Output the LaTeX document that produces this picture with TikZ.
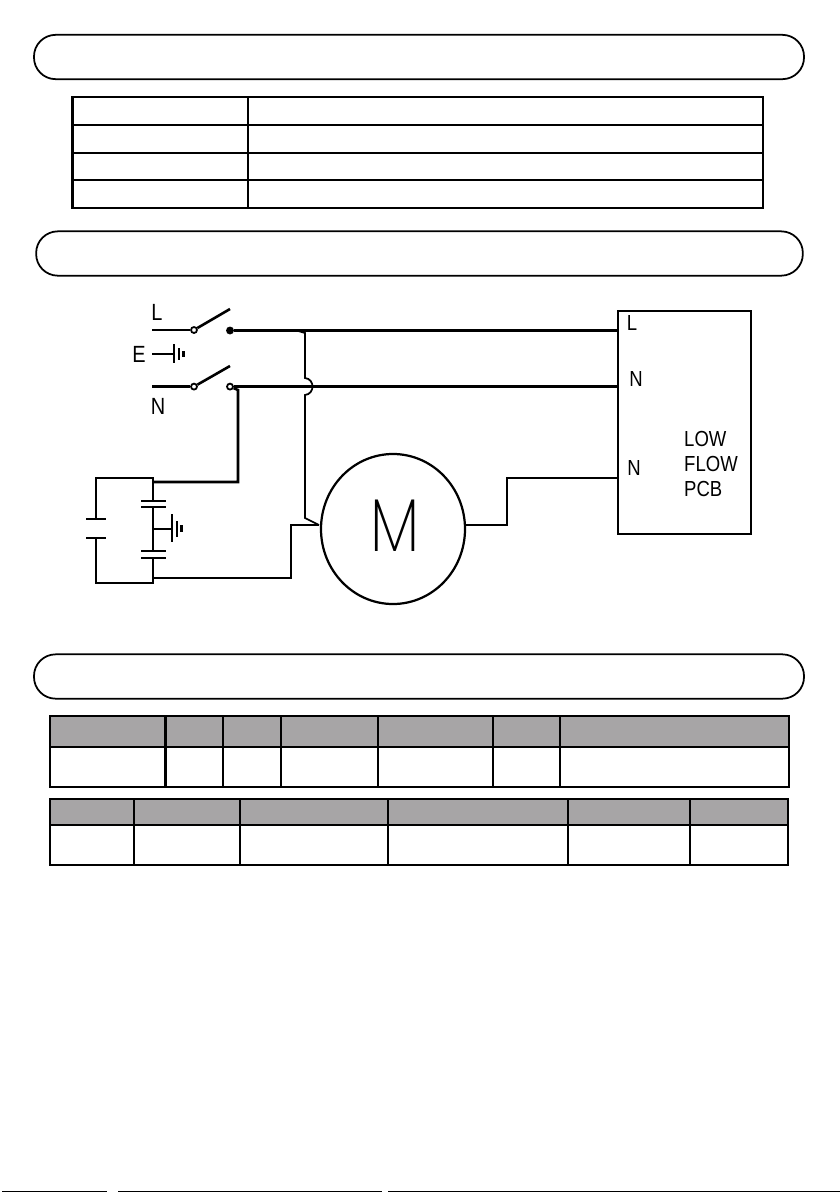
\documentclass[tikz,border=0pt]{standalone}
\usepackage{fontspec}
\usepackage{xcolor}
\setmainfont[FakeStretch=0.85]{Liberation Sans}
\newfontfamily\thinfont{Poppins ExtraLight}
\usetikzlibrary{shapes.geometric, positioning, calc}
\definecolor{headgray}{HTML}{A7A5A6}

\begin{document}
\begin{tikzpicture}[
    x=0.03cm, y=-0.03cm,
    pill/.style={rectangle, draw, line width=1.5pt, rounded corners=0.65cm, minimum width=23.1cm, minimum height=1.33cm},
    grid/.style={draw, line width=1.9pt},
    wire/.style={draw, line width=2.2pt, line join=miter},
    fine/.style={draw, line width=1.5pt},
    contact/.style={circle, draw, line width=1.5pt, fill=white, inner sep=0pt, minimum size=0.18cm},
    solid contact/.style={contact, fill=black},
    label/.style={font=\fontsize{18.6}{18.6}\selectfont, inner sep=0pt},
    mains/.style={label, font=\fontsize{20}{20}\selectfont},
    motor/.style={ellipse, draw, line width=1.9pt, minimum width=4.32cm, minimum height=4.5cm, inner sep=0pt}
]
    \useasboundingbox (0,0) rectangle (840,1192);

    % section bars
    \node[pill] (bar1) at (419,57) {};
    \node[pill, minimum width=23cm] (bar2) at (419.5,253.5) {};
    \node[pill] (bar3) at (419,676.5) {};

    % first table
    \draw[grid] (72.5,97) rectangle (763,208);
    \draw[grid] (248,97) -- (248,208);
    \foreach \y in {125,153,180}
        \draw[grid] (72.5,\y) -- (763,\y);

    % second table
    \draw[grid, fill=headgray] (50,716) rectangle (789,747);
    \draw[grid] (50,747) rectangle (789,787);
    \foreach \x in {165.5,223,281,378,493,560}
        \draw[grid] (\x,716) -- (\x,787);

    % third table
    \draw[grid, fill=headgray] (50,799) rectangle (788,825);
    \draw[grid] (50,825) rectangle (788,865);
    \foreach \x in {134,240,388,568,690}
        \draw[grid] (\x,799) -- (\x,865);

    % switches
    \node[contact] (sw1) at (194,330) {};
    \node[solid contact] (out1) at (230,330.5) {};
    \node[contact] (sw2) at (194,386.6) {};
    \node[contact] (out2) at (230,386.6) {};
    \coordinate (in1) at (152,330);
    \coordinate (in2) at (152,386.6);
    \coordinate (blade1) at (230,309);
    \coordinate (blade2) at (230,366);
    \draw[wire] (in1) -- (sw1);
    \draw[wire] (in2) -- (sw2);
    \draw[wire] (sw1) -- (blade1);
    \draw[wire] (sw2) -- (blade2);
    \node[mains] (lblL) at (157,312) {L};
    \node[mains] (lblE) at (139,354) {E};
    \node[mains] (lblN) at (158,406) {N};

    % earth at the mains
    \coordinate (earth1) at (174,354);
    \draw[wire] (152,354) -- (earth1);
    \draw[wire] (174,344) -- (174,363);
    \draw[wire] (179,348) -- (179,360);
    \draw[wire] (183.5,351) -- (183.5,357);

    % board and motor
    \node[rectangle, draw, line width=1.9pt, minimum width=3.99cm, minimum height=6.69cm] (pcb) at (684.5,422.5) {};
    \node[motor] (mot) at (393,529) {};
    \node[font=\thinfont\fontsize{64}{64}\selectfont, inner sep=0pt, xscale=0.8] (motM) at (395,526) {M};
    \coordinate (pinL) at (pcb.west |- out1);
    \coordinate (pinN) at (pcb.west |- out2);
    \coordinate (pinM) at (618,478);
    \coordinate (motR) at (465,525);
    \coordinate (motL) at (319,525);
    \node[label, anchor=center] (pcbL) at (632,323) {L};
    \node[label] (pcbN1) at (636,379) {N};
    \node[label] (pcbN2) at (634,468) {N};
    \node[label, anchor=west] (pcbLow) at (684,439) {LOW};
    \node[label, anchor=west] (pcbFlow) at (684,464) {FLOW};
    \node[label, anchor=west] (pcbPcb) at (684,489) {PCB};

    \draw[wire] (out1) -- (pinL);
    \draw[wire] (out2) -- (pinN);
    \draw[wire] (motR) -- (507,525) -- (507,478) -- (pinM);

    % jump over the neutral
    \draw[fine] (295,330) -- (305,333) -- (305,378)
        .. controls (315,379) and (315,394) .. (305,395)
        -- (305,518) -- (motL);

    % capacitors
    \coordinate (capT) at (153,478);
    \coordinate (capB) at (153,583);
    \draw[wire] (out2) -- (238,390) -- (238,482) -- (153,482);
    \draw[wire] (96,519) -- (96,478) -- (capT) -- (153,501);
    \draw[wire] (96,538) -- (96,583) -- (capB) -- (153,558);
    \draw[wire] (153,507) -- (153,551);
    \foreach \y in {501,507,551,558}
        \draw[wire] (141,\y) -- (166,\y);
    \foreach \y in {519,538}
        \draw[wire] (86,\y) -- (106,\y);
    \draw[wire] (153,578) -- (291,578) -- (291,525) -- (motL);

    % earth at the capacitors
    \draw[wire] (153,529) -- (172,529);
    \draw[wire] (172,514) -- (172,542);
    \draw[wire] (177,521) -- (177,537);
    \draw[wire] (181.5,525) -- (181.5,532);

    % trim at the foot of the page
    \fill (2,1190.5) rectangle (107,1192);
    \fill (118,1190.5) rectangle (382,1192);
    \fill (388,1190.5) rectangle (840,1192);
\end{tikzpicture}
\end{document}
